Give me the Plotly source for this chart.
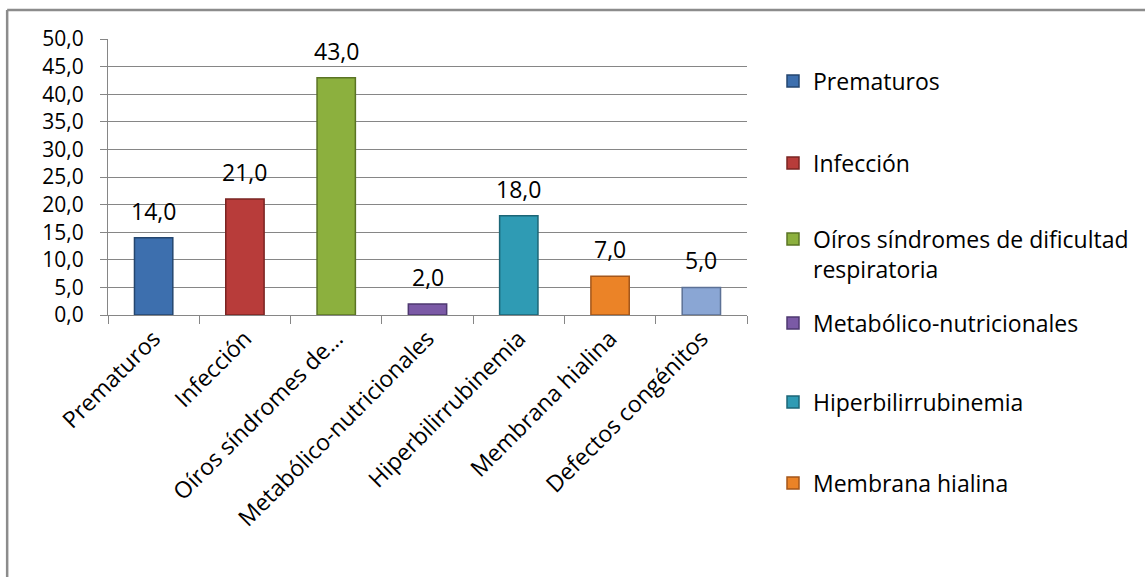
import plotly.graph_objects as go

categories = ["Prematuros", "Infección", "Oíros síndromes de…", "Metabólico-nutricionales",
              "Hiperbilirrubinemia", "Membrana hialina", "Defectos congénitos"]
legend_names = ["Prematuros", "Infección", "Oíros síndromes de dificultad<br>respiratoria",
                "Metabólico-nutricionales", "Hiperbilirrubinemia", "Membrana hialina",
                "Defectos congénitos"]
values = [14.0, 21.0, 43.0, 2.0, 18.0, 7.0, 5.0]
colors = ["#3d6fae", "#b83c3a", "#8cb03e", "#7b5aa6", "#2f9bb4", "#eb8327", "#8aa6d4"]
edges = ["#24466f", "#7a2422", "#5a7424", "#4e3870", "#1c6677", "#a4561a", "#5c7196"]
y_ticks = [0, 5, 10, 15, 20, 25, 30, 35, 40, 45, 50]

FONT = "Open Sans"
FS = 23
FS_Y = 21

W, H = 1145, 577
L, R, T, B = 108, 748, 39, 315
pw, ph = R - L, B - T

def px_x(p):
    return (p - L) / pw

def px_y(p):
    return (B - p) / ph

# legend item centres (pixel y) for the six visible entries
legend_centres = [81, 163, 254, 323, 402, 483]

fig = go.Figure()
for i, (c, n, v) in enumerate(zip(categories, legend_names, values)):
    lg = "legend" if i == 0 else f"legend{i+1}"
    fig.add_trace(go.Bar(
        x=[c], y=[v], name=n,
        marker=dict(color=colors[i], line=dict(color=edges[i], width=1.5)),
        width=0.42,
        showlegend=(i < 6),
        legend=lg if i < 6 else None,
    ))
    fig.add_annotation(x=c, y=v, text=f"{v:.1f}".replace(".", ","),
                       showarrow=False, yanchor="bottom", yshift=9,
                       font=dict(family=FONT, size=FS, color="#000000"))

layout_legends = {}
for i in range(6):
    key = "legend" if i == 0 else f"legend{i+1}"
    layout_legends[key] = dict(
        x=px_x(773), y=px_y(legend_centres[i]), xanchor="left", yanchor="middle",
        bgcolor="rgba(0,0,0,0)", valign="top",
        font=dict(family=FONT, size=FS, color="#000000"),
    )

fig.update_layout(
    width=W, height=H,
    margin=dict(l=L, r=W - R, t=T, b=H - B, pad=0),
    paper_bgcolor="white", plot_bgcolor="white",
    barmode="overlay",
    separators=",.",
    font=dict(family=FONT, size=FS, color="#000000"),
    xaxis=dict(
        type="category", tickangle=-45, showgrid=False,
        showline=True, linecolor="#868686", linewidth=1,
        ticks="outside", tickson="boundaries", ticklen=8, tickcolor="#868686",
        tickfont=dict(family=FONT, size=FS, color="#000000"),
        range=[-0.5, 6.5],
    ),
    yaxis=dict(
        range=[0, 50], tickvals=y_ticks, tickformat=".1f",
        showgrid=True, gridcolor="#868686", gridwidth=1,
        showline=True, linecolor="#868686", linewidth=1,
        ticks="outside", ticklen=7, tickcolor="#868686",
        ticklabelstandoff=12,
        tickfont=dict(family=FONT, size=FS_Y, color="#000000"),
        zeroline=False,
    ),
    shapes=[
        dict(type="line", xref="paper", yref="paper", x0=px_x(7), x1=px_x(W + 5),
             y0=px_y(10), y1=px_y(10), line=dict(color="#8c8c8c", width=2.5)),
        dict(type="line", xref="paper", yref="paper", x0=px_x(7), x1=px_x(7),
             y0=px_y(10), y1=px_y(H + 5), line=dict(color="#8c8c8c", width=2.5)),
    ],
    **layout_legends,
)

fig.write_html("out.html")
